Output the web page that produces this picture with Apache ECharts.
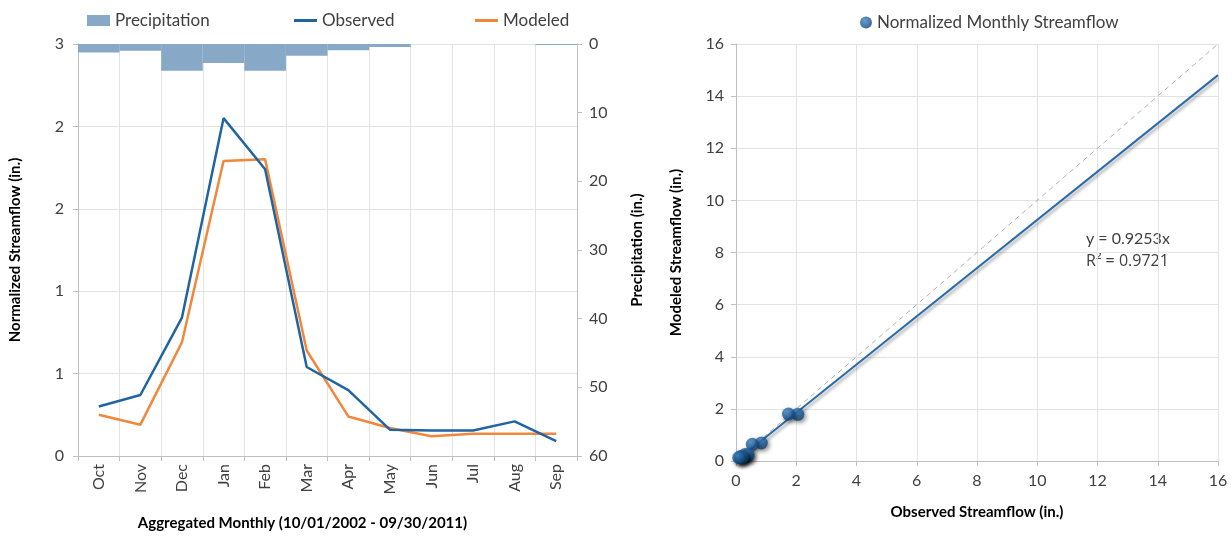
<!DOCTYPE html>
<html>
<head>
<meta charset="utf-8">
<script src="https://cdn.jsdelivr.net/npm/echarts@6/dist/echarts.min.js"></script>
<style>
html,body{margin:0;padding:0;background:#fff;}
#chart{width:1232px;height:537px;}
</style>
</head>
<body>
<div id="chart"></div>
<script>
// ---- data ----
const months = ['Oct','Nov','Dec','Jan','Feb','Mar','Apr','May','Jun','Jul','Aug','Sep'];
const precipitation = [1.25, 1.0, 3.9, 2.75, 3.9, 1.7, 0.9, 0.45, 0, 0, 0, 0.15];
const observed = [0.30, 0.37, 0.84, 2.05, 1.74, 0.54, 0.40, 0.16, 0.155, 0.155, 0.21, 0.09];
const modeled  = [0.25, 0.19, 0.69, 1.79, 1.80, 0.64, 0.24, 0.17, 0.12, 0.135, 0.135, 0.135];
const trendSlope = 0.9253;
const rSquared = 0.9721;
const scatterMax = 16;

const scatterPoints = observed.map((o, i) => [o, modeled[i]]);
const trendLine = [[0, 0], [scatterMax, trendSlope * scatterMax]];
const oneToOne = [[0, 0], [scatterMax, scatterMax]];

const FONT = 'Lato';
const txt = '#404040';
const gridCol = '#e3e3e3';
const axisCol = '#bfbfbf';
const obsColor = '#2064a2';
const modColor = '#f0873a';
const precColor = '#87a9c7';

const chart = echarts.init(document.getElementById('chart'));
const labelStyle = {color: txt, fontSize: 16, fontFamily: FONT};
const nameStyle = {color: '#000', fontSize: 15, fontWeight: 'bold', fontFamily: FONT};
const legText = {color: txt, fontSize: 17, fontFamily: FONT};

chart.setOption({
  backgroundColor: '#fff',
  animation: false,
  textStyle: {fontFamily: FONT},
  legend: [
    {data: [{name: 'Precipitation', icon: 'rect'}], left: 82, top: 7, itemWidth: 23, itemHeight: 11, itemGap: 4, textStyle: legText},
    {data: [{name: 'Observed', icon: 'rect'}], left: 289, top: 7, itemWidth: 23, itemHeight: 3, textStyle: legText},
    {data: [{name: 'Modeled', icon: 'rect'}], left: 470, top: 7, itemWidth: 23, itemHeight: 3, textStyle: legText},
    {data: [{name: 'Normalized Monthly Streamflow', icon: 'circle'}], left: 855, top: 9, itemWidth: 12, itemHeight: 12, itemGap: 4, textStyle: legText}
  ],
  grid: [
    {left: 78, right: 655, top: 44, bottom: 81, outerBoundsMode: 'none'},
    {left: 736, right: 14, top: 44, bottom: 76, outerBoundsMode: 'none'}
  ],
  xAxis: [
    {type: 'category', gridIndex: 0, data: months, boundaryGap: true,
     name: 'Aggregated Monthly (10/01/2002 - 09/30/2011)', nameLocation: 'middle', nameGap: 60,
     nameTextStyle: Object.assign({padding: [0, 50, 0, 0]}, nameStyle),
     axisLine: {lineStyle: {color: axisCol}}, axisTick: {show: true, length: 5, lineStyle: {color: axisCol}},
     axisLabel: Object.assign({rotate: 90, margin: 8}, labelStyle),
     splitLine: {show: true, lineStyle: {color: gridCol}}},
    {type: 'value', gridIndex: 1, min: 0, max: scatterMax, interval: 2,
     name: 'Observed Streamflow (in.)', nameLocation: 'middle', nameGap: 44, nameTextStyle: nameStyle,
     axisLine: {show: true, lineStyle: {color: axisCol}}, axisTick: {show: true, length: 5, lineStyle: {color: axisCol}},
     axisLabel: Object.assign({margin: 12}, labelStyle),
     splitLine: {show: true, lineStyle: {color: gridCol}}}
  ],
  yAxis: [
    {type: 'value', gridIndex: 0, min: 0, max: 2.5, interval: 0.5,
     name: 'Normalized Streamflow (in.)', nameLocation: 'middle', nameGap: 55, nameTextStyle: nameStyle,
     axisLine: {show: true, lineStyle: {color: axisCol}}, axisTick: {show: true, length: 5, lineStyle: {color: axisCol}},
     axisLabel: Object.assign({margin: 14, formatter: v => String(Math.round(v))}, labelStyle),
     splitLine: {show: true, lineStyle: {color: gridCol}}},
    {type: 'value', gridIndex: 0, min: 0, max: 60, interval: 10, inverse: true, position: 'right',
     name: 'Precipitation (in.)', nameLocation: 'middle', nameGap: 53, nameRotate: 90, nameTextStyle: nameStyle,
     axisLine: {show: true, lineStyle: {color: axisCol}}, axisTick: {show: true, length: 5, lineStyle: {color: axisCol}},
     axisLabel: Object.assign({margin: 12}, labelStyle),
     splitLine: {show: false}},
    {type: 'value', gridIndex: 1, min: 0, max: scatterMax, interval: 2,
     name: 'Modeled Streamflow (in.)', nameLocation: 'middle', nameGap: 52, nameTextStyle: nameStyle,
     axisLine: {show: true, lineStyle: {color: axisCol}}, axisTick: {show: true, length: 5, lineStyle: {color: axisCol}},
     axisLabel: Object.assign({margin: 12}, labelStyle),
     splitLine: {show: true, lineStyle: {color: gridCol}}}
  ],
  series: [
    {name: 'Precipitation', type: 'bar', xAxisIndex: 0, yAxisIndex: 1, data: precipitation,
     barWidth: '100%', itemStyle: {color: precColor}, z: 1},
    {name: 'Observed', type: 'line', xAxisIndex: 0, yAxisIndex: 0, data: observed,
     showSymbol: false, symbol: 'none', lineStyle: {color: obsColor, width: 2.5}, itemStyle: {color: obsColor}, z: 3},
    {name: 'Modeled', type: 'line', xAxisIndex: 0, yAxisIndex: 0, data: modeled,
     showSymbol: false, symbol: 'none', lineStyle: {color: modColor, width: 2.5}, itemStyle: {color: modColor}, z: 2},
    {name: 'oneToOne', type: 'line', xAxisIndex: 1, yAxisIndex: 2, data: oneToOne,
     showSymbol: false, symbol: 'none', lineStyle: {color: '#b0b0b0', width: 1, type: [5, 4]}, z: 1, silent: true},
    {name: 'trend', type: 'line', xAxisIndex: 1, yAxisIndex: 2, data: trendLine,
     showSymbol: false, symbol: 'none',
     lineStyle: {color: '#2a6cab', width: 2, shadowColor: 'rgba(0,0,0,0.35)', shadowBlur: 3, shadowOffsetX: 1, shadowOffsetY: 3}, z: 2, silent: true},
    {name: 'Normalized Monthly Streamflow', type: 'scatter', xAxisIndex: 1, yAxisIndex: 2, data: scatterPoints,
     symbolSize: 13,
     itemStyle: {
       color: {type: 'radial', x: 0.4, y: 0.35, r: 0.7, colorStops: [{offset: 0, color: '#3f86c9'}, {offset: 0.6, color: '#1c5b98'}, {offset: 1, color: '#0f3d6c'}]},
       shadowColor: 'rgba(0,0,0,0.55)', shadowBlur: 4, shadowOffsetX: 2, shadowOffsetY: 2
     }, z: 4}
  ],
  graphic: [
    {type: 'text', left: 1086, top: 231, style: {text: 'y = ' + trendSlope + 'x', fill: txt, font: '16px ' + FONT}},
    {type: 'text', left: 1086, top: 253, style: {text: 'R\u00b2 = ' + rSquared, fill: txt, font: '16px "Open Sans"'}}
  ]
});
</script>
</body>
</html>
